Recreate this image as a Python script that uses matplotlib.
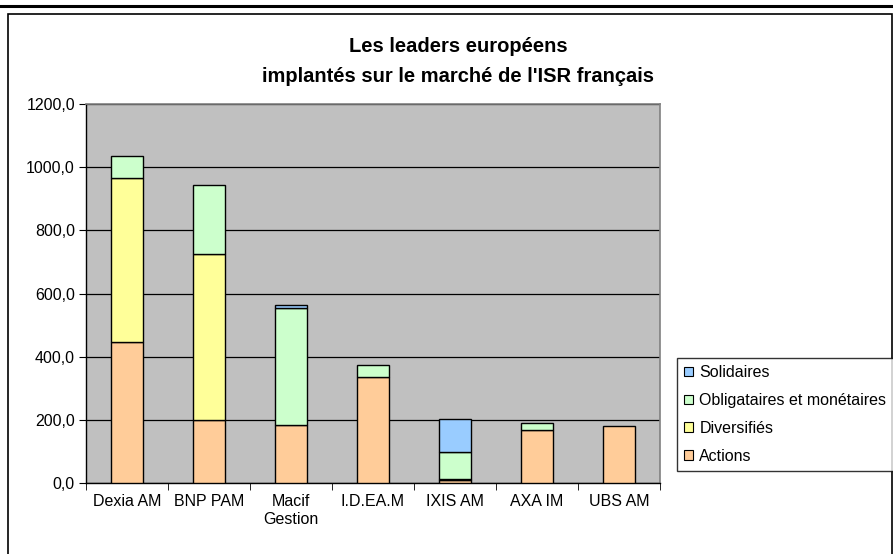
import numpy as np
import matplotlib.pyplot as plt
from matplotlib.patches import Rectangle
from matplotlib.lines import Line2D

plt.rcParams['font.family'] = ['Liberation Sans', 'DejaVu Sans']

societes = ["Dexia AM", "BNP PAM", "Macif\nGestion", "I.D.EA.M", "IXIS AM", "AXA IM", "UBS AM"]
actions = [445, 200, 185, 335, 10, 168, 181]
diversifies = [520, 525, 0, 0, 4, 0, 0]
obligataires = [70, 220, 369, 40, 83, 22, 0]
solidaires = [0, 0, 10, 0, 106, 0, 0]

series = [("Actions", actions, "#FFCC99"),
          ("Diversifiés", diversifies, "#FFFF99"),
          ("Obligataires et monétaires", obligataires, "#CCFFCC"),
          ("Solidaires", solidaires, "#99CCFF")]

W, H = 893, 554
fig = plt.figure(figsize=(W / 100, H / 100), dpi=100)

# cadre du graphique + ligne du haut
fig.add_artist(Line2D([0, 1], [1 - 5.5 / H, 1 - 5.5 / H], color="black", lw=2.2))
fig.add_artist(Rectangle((8 / W, -0.01), (892 - 8) / W, (H - 14) / H + 0.01,
                         transform=fig.transFigure, fill=False, ec="black", lw=1.2))

ax = fig.add_axes([86 / W, 1 - 483 / H, (660 - 86) / W, (483 - 104) / H])
ax.set_facecolor("#C0C0C0")

x = np.arange(len(societes))
bottom = np.zeros(len(societes))
handles = []
for nom, vals, col in series:
    vals = np.array(vals, dtype=float)
    mask = vals > 0
    ax.bar(x[mask], vals[mask], bottom=bottom[mask], width=0.40, color=col,
           edgecolor="black", linewidth=1.0, zorder=3)
    handles.append(Rectangle((0, 0), 1, 1, fc=col, ec="black", lw=0.8, label=nom))
    bottom += vals

ax.set_xlim(-0.5, len(societes) - 0.5)
ax.set_ylim(0, 1200)
ax.set_yticks(np.arange(0, 1201, 200))
ax.set_yticklabels([f"{v:.1f}".replace(".", ",") for v in np.arange(0, 1201, 200)])
ax.yaxis.grid(True, color="black", lw=0.9, zorder=1)
ax.set_axisbelow(True)

ax.set_xticks(x)
ax.set_xticklabels(societes, linespacing=1.25)
ax.set_xticks(np.arange(-0.5, len(societes)), minor=True)
ax.tick_params(axis="x", which="major", length=0, pad=8, labelsize=11.5)
ax.tick_params(axis="x", which="minor", length=5, direction="out", color="black")
ax.tick_params(axis="y", length=5, direction="out", labelsize=11.5, pad=3)

for s in ["top", "right"]:
    ax.spines[s].set_color("#808080")
    ax.spines[s].set_linewidth(1.2)
for s in ["left", "bottom"]:
    ax.spines[s].set_color("black")
    ax.spines[s].set_linewidth(1.0)

fig.text(0.513, 1 - 47 / H, "Les leaders européens", ha="center", va="center",
         fontsize=14.5, fontweight="bold")
fig.text(0.513, 1 - 76 / H, "implantés sur le marché de l'ISR français", ha="center",
         va="center", fontsize=14.5, fontweight="bold")

leg = fig.legend(handles=handles[::-1], loc="upper left",
                 bbox_to_anchor=(677 / W, 1 - 358 / H), frameon=True, fancybox=False,
                 fontsize=11.5, handlelength=0.55, handleheight=0.55, handletextpad=0.4,
                 borderpad=0.45, labelspacing=0.8, borderaxespad=0)
leg.get_frame().set_edgecolor("black")
leg.get_frame().set_linewidth(1.0)

fig.savefig("out.png", dpi=100)
